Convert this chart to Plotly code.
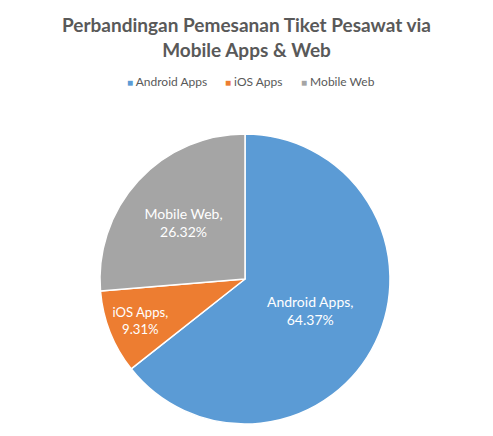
import plotly.graph_objects as go

labels = ["Android Apps", "iOS Apps", "Mobile Web"]
values = [64.37, 9.31, 26.32]
colors = ["#5B9BD5", "#ED7D31", "#A5A5A5"]
title_text = "Perbandingan Pemesanan Tiket Pesawat via<br>Mobile Apps & Web"

W, H = 493, 436
cx, cy, r = 245, 279, 145
FONT = "Lato"

fig = go.Figure(go.Pie(
    labels=labels,
    values=values,
    sort=False,
    direction="clockwise",
    rotation=0,
    marker=dict(colors=colors, line=dict(color="white", width=1.5)),
    texttemplate="%{label},<br>%{percent:.2%}",
    textposition="inside",
    insidetextorientation="horizontal",
    textfont=dict(color="white", size=14, family=FONT),
    hoverinfo="label+percent",
    showlegend=False,
    domain=dict(x=[(cx - r) / W, (cx + r) / W], y=[1 - (cy + r) / H, 1 - (cy - r) / H]),
))

# legend drawn as text entries built from labels/colors
legend_x = [125, 223, 299]
annotations = []
for lab, col, lx in zip(labels, colors, legend_x):
    annotations.append(dict(
        text=f"<span style='color:{col}; font-size:10px'>■</span> {lab}",
        x=lx / W, y=1 - 82 / H, xref="paper", yref="paper",
        xanchor="left", yanchor="middle", showarrow=False,
        font=dict(family=FONT, size=12, color="#595959"),
    ))

fig.update_layout(
    width=W, height=H,
    margin=dict(l=0, r=0, t=0, b=0),
    paper_bgcolor="white",
    title=dict(
        text=f"<b>{title_text}</b>",
        x=0.5, xanchor="center", y=1 - 32 / H, yanchor="top",
        font=dict(family=FONT, size=19, color="#595959"),
    ),
    annotations=annotations,
)

fig.write_html("out.html")
